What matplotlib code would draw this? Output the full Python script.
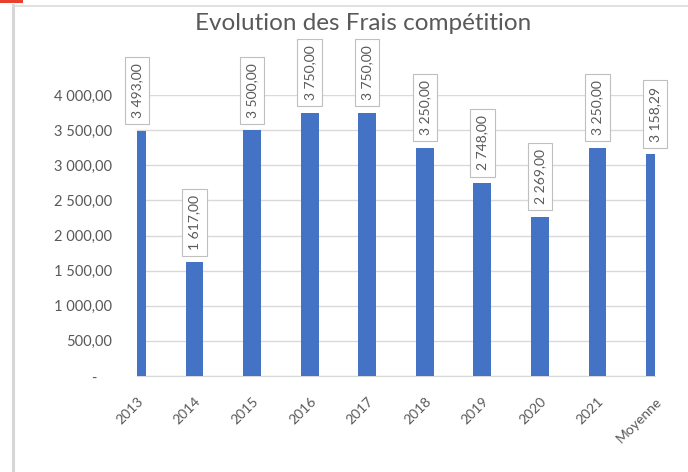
import matplotlib
matplotlib.use("Agg")
import matplotlib.pyplot as plt
from matplotlib.patches import Rectangle
from matplotlib.lines import Line2D
from matplotlib.ticker import FuncFormatter

# --- Data ---
categories = ["2013", "2014", "2015", "2016", "2017", "2018", "2019", "2020", "2021", "Moyenne"]
values = [3493.00, 1617.00, 3500.00, 3750.00, 3750.00, 3250.00, 2748.00, 2269.00, 3250.00, 3158.29]
yticks = [0, 500, 1000, 1500, 2000, 2500, 3000, 3500, 4000]
title = "Evolution des Frais compétition"

BAR = "#4472C4"
GRID = "#D9D9D9"
TXT = "#595959"

plt.rcParams["font.family"] = ["Lato", "DejaVu Sans"]


def fr_number(v):
    s = f"{v:,.2f}"
    return s.replace(",", " ").replace(".", ",")


def fr_tick(v, pos=None):
    if v == 0:
        return "-    "
    return fr_number(v)


fig = plt.figure(figsize=(6.88, 4.72), dpi=100)
W, H = 688, 472

# screenshot frame bits
fig.add_artist(Rectangle((0, 1 - 3 / H), 23 / W, 3 / H, transform=fig.transFigure,
                         color="#E8412F", lw=0))
fig.add_artist(Line2D([13 / W, 13 / W], [0, 1 - 5 / H], transform=fig.transFigure,
                      color="#D6D6D6", lw=2.2))
fig.add_artist(Line2D([13 / W, 1], [1 - 6 / H, 1 - 6 / H], transform=fig.transFigure,
                      color="#DCDCDC", lw=1.2))

ax = fig.add_axes([137 / W, 1 - 376 / H, (655 - 137) / W, (376 - 95) / H])
x = list(range(len(categories)))
ax.bar(x, values, width=0.31, color=BAR, zorder=3)
ax.set_xlim(0, len(categories) - 1)
ax.set_ylim(0, 4000)
ax.set_yticks(yticks)
ax.yaxis.set_major_formatter(FuncFormatter(fr_tick))
ax.grid(axis="y", color=GRID, lw=1, zorder=0)
for side in ["top", "right", "left"]:
    ax.spines[side].set_visible(False)
ax.spines["bottom"].set_color(GRID)
ax.tick_params(axis="both", length=0, colors=TXT)
ax.tick_params(axis="y", pad=18, labelsize=10.5)
ax.set_xticks(x)
ax.set_xticklabels(categories, rotation=45, ha="right", rotation_mode="anchor")
ax.tick_params(axis="x", pad=14, labelsize=10)

for xi, v in zip(x, values):
    ax.annotate(fr_number(v), (xi, v), xytext=(0, 9), textcoords="offset points",
                rotation=90, ha="center", va="bottom", fontsize=10, color=TXT,
                annotation_clip=False, zorder=5,
                bbox=dict(boxstyle="square,pad=0.45", fc="white", ec="#BFBFBF", lw=0.8))

fig.text(363 / W, 1 - 24 / H, title, ha="center", va="center", fontsize=17.5, color=TXT)

fig.savefig("out.png", dpi=100)
